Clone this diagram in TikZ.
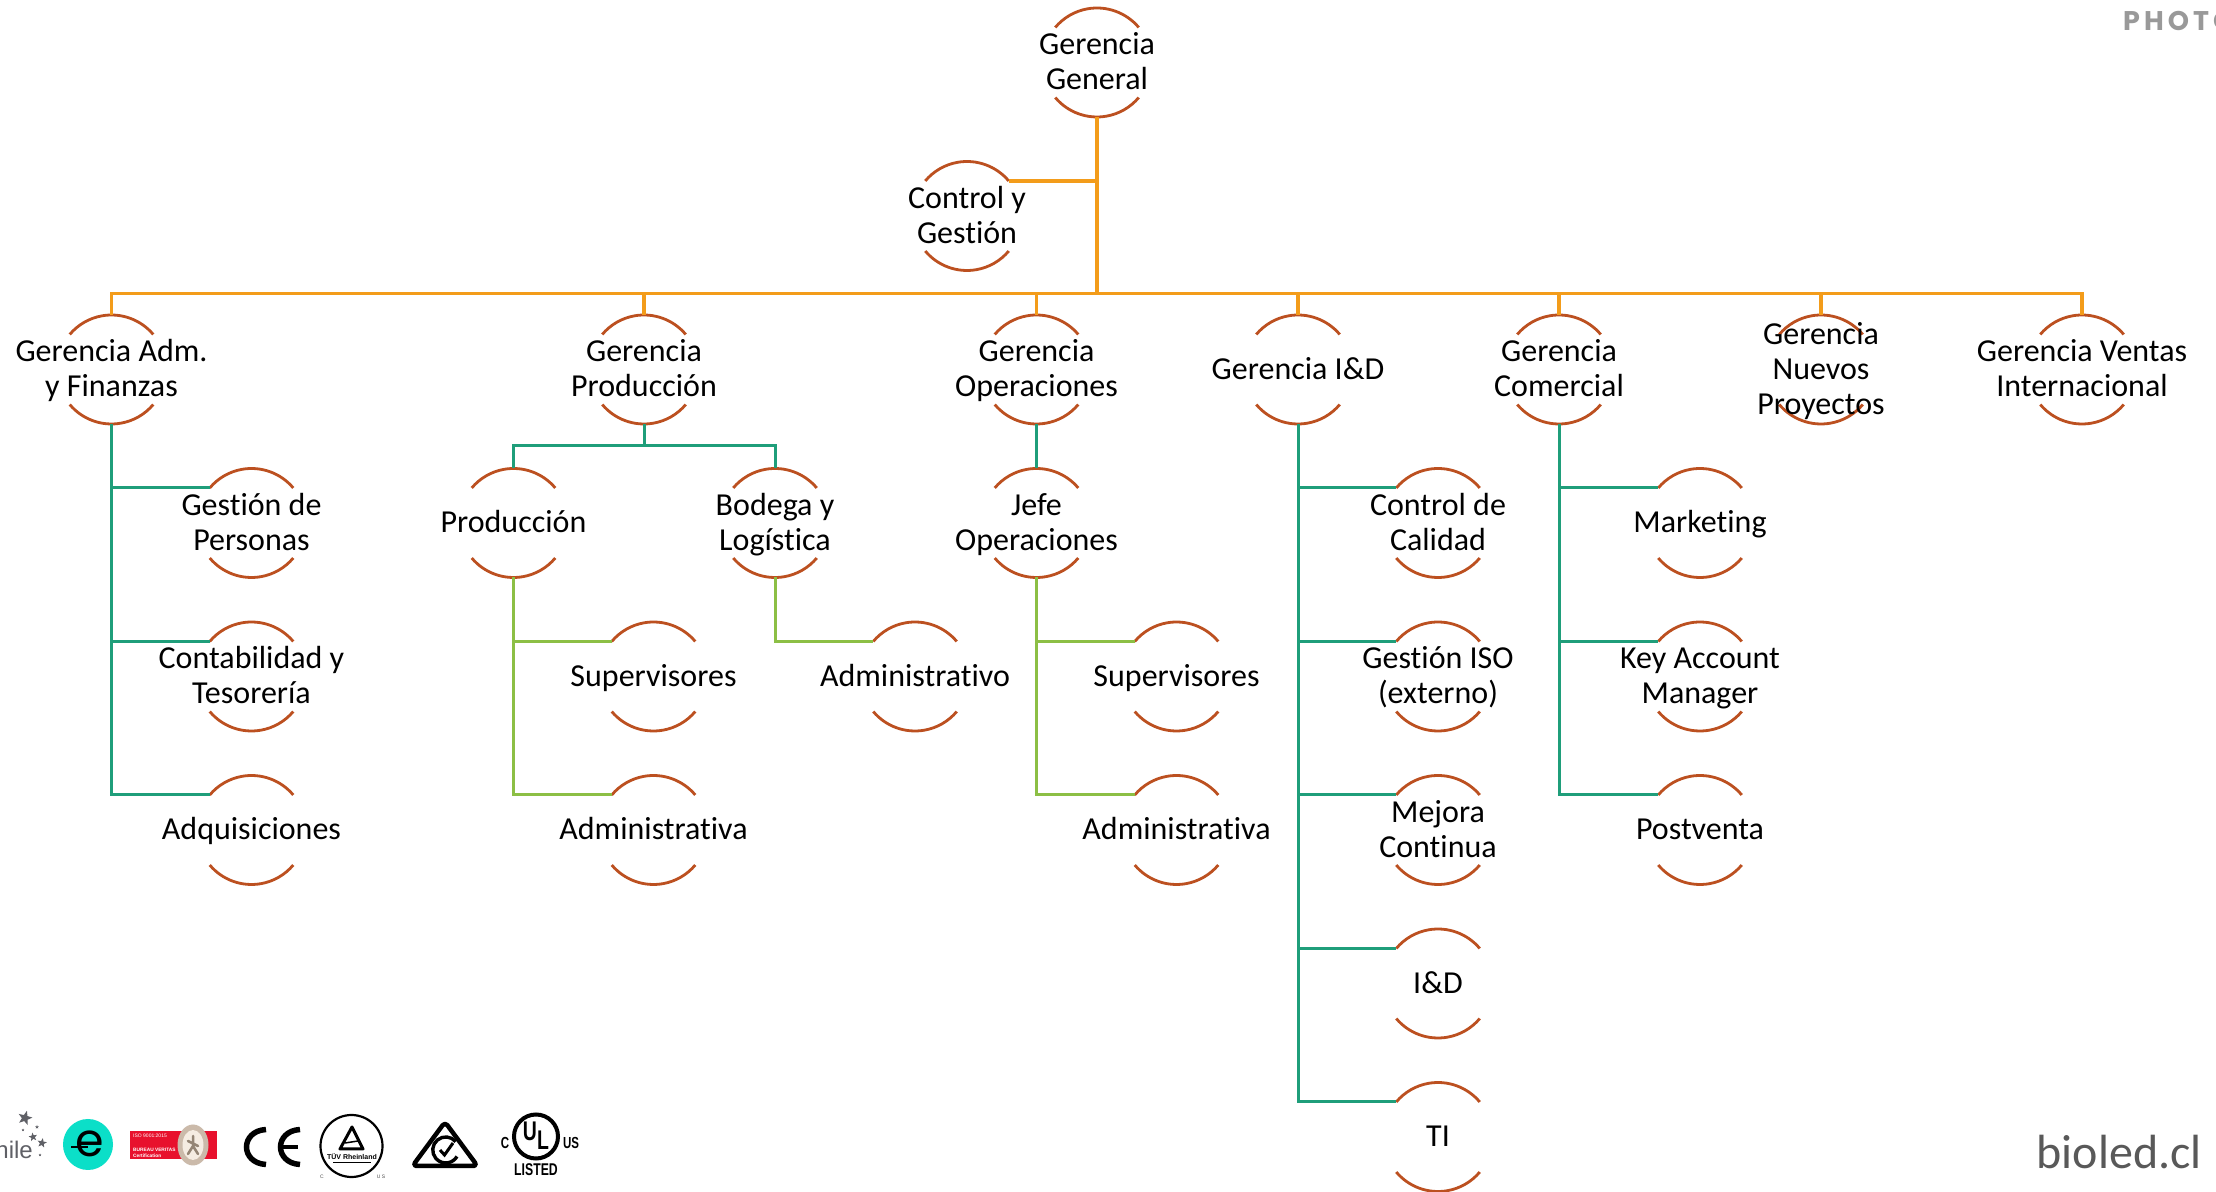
\documentclass[tikz,border=0pt]{standalone}
\usepackage{fontspec}
\usetikzlibrary{shapes.geometric,calc}
\setmainfont{Carlito}[Ligatures=NoCommon]
\newfontfamily\logosans{Liberation Sans}
\newfontfamily\ulfont[FakeStretch=0.72]{Liberation Sans}
\newfontfamily\photofont[LetterSpace=15]{Poppins}
\newfontfamily\efont{Poppins}
\definecolor{arcred}{HTML}{BC5020}
\definecolor{busor}{HTML}{F39C1A}
\definecolor{tealc}{HTML}{1F9E7A}
\definecolor{greenc}{HTML}{8CBF45}
\definecolor{logoteal}{HTML}{0BDFC8}
\definecolor{logored}{HTML}{E8112D}
\definecolor{logogray}{HTML}{5F6066}
\tikzset{
  orgcircle/.style={circle,minimum size=109pt,inner sep=0pt,outer sep=0pt},
  orgtext/.style={align=center,inner sep=0pt,text=black,font=\fontsize{32}{35}\selectfont},
  orgarc/.style={draw=arcred,line width=2.8pt},
  busline/.style={draw=busor,line width=3.2pt},
  trunkline/.style={draw=busor,line width=4.4pt},
  tealline/.style={draw=tealc,line width=3pt},
  greenline/.style={draw=greenc,line width=3pt},
  logostar/.style={star,star points=5,star point ratio=2.4,fill=logogray,inner sep=0pt,outer sep=0pt},
  tinywhite/.style={text=white,inner sep=0pt,font=\logosans\fontsize{5}{6}\selectfont},
}
\newcommand\orgnode[4]{%
  \node[orgcircle] (#1) at (#2,{1191-#3}) {};
  \draw[orgarc] (#1.40) arc[start angle=40,end angle=140,radius=54.5pt];
  \draw[orgarc] (#1.220) arc[start angle=220,end angle=320,radius=54.5pt];
  \node[orgtext] (#1-t) at (#1) {\rule{0pt}{29pt}#4\rule[-9pt]{0pt}{9pt}};
}
\newcommand\sidelink[3]{\draw[#1] (#2.south) |- (#3.140);}
\begin{document}
\begin{tikzpicture}[x=1pt,y=1pt]
\useasboundingbox (0,0) rectangle (2216,1191);
\clip (0,0) rectangle (2216,1191);
\fill[white] (0,0) rectangle (2216,1191);

% nodes
\orgnode{gg}{1097}{62.5}{Gerencia\\General}
\orgnode{ctrl}{967}{216}{Control y\\Gestión}
\orgnode{adm}{111.5}{369.5}{Gerencia Adm.\\y Finanzas}
\orgnode{prod}{644}{369.5}{Gerencia\\Producción}
\orgnode{oper}{1036.5}{369.5}{Gerencia\\Operaciones}
\orgnode{ide}{1298}{369.5}{Gerencia I\&D}
\orgnode{com}{1559}{369.5}{Gerencia\\Comercial}
\orgnode{nue}{1821}{369.5}{Gerencia\\Nuevos\\Proyectos}
\orgnode{ven}{2082}{369.5}{Gerencia Ventas\\Internacional}

\orgnode{pers}{251.5}{523}{Gestión de\\Personas}
\orgnode{cont}{251.5}{676.5}{Contabilidad y\\Tesorería}
\orgnode{adq}{251.5}{830}{Adquisiciones}

\orgnode{pro}{513.5}{523}{Producción}
\orgnode{bod}{775}{523}{Bodega y\\Logística}
\orgnode{sup}{653.5}{676.5}{Supervisores}
\orgnode{admva}{653.5}{830}{Administrativa}
\orgnode{admvo}{915}{676.5}{Administrativo}

\orgnode{jefe}{1036.5}{523}{Jefe\\Operaciones}
\orgnode{supb}{1176.5}{676.5}{Supervisores}
\orgnode{admvb}{1176.5}{830}{Administrativa}

\orgnode{cal}{1438}{523}{Control de\\Calidad}
\orgnode{iso}{1438}{676.5}{Gestión ISO\\(externo)}
\orgnode{mej}{1438}{830}{Mejora\\Continua}
\orgnode{id}{1438}{983.5}{I\&D}
\orgnode{ti}{1438}{1137}{TI}

\orgnode{mkt}{1700}{523}{Marketing}
\orgnode{kam}{1700}{676.5}{Key Account\\Manager}
\orgnode{post}{1700}{830}{Postventa}

% orange connectors
\coordinate (bus) at (1097,{1191-293.5});
\draw[trunkline] (gg.south) -- (bus);
\draw[busline] (ctrl.40) -- (ctrl.40 -| gg.south);
\foreach \c in {adm,prod,oper,ide,com,nue,ven}{
  \draw[busline] (bus) -| (\c.north);
}

% teal connectors
\foreach \c in {pers,cont,adq}{\sidelink{tealline}{adm}{\c}}
\coordinate (pbus) at (644,{1191-446});
\draw[tealline] (prod.south) -- (pbus);
\draw[tealline] (pbus) -| (pro.north);
\draw[tealline] (pbus) -| (bod.north);
\draw[tealline] (oper.south) -- (jefe.north);
\foreach \c in {cal,iso,mej,id,ti}{\sidelink{tealline}{ide}{\c}}
\foreach \c in {mkt,kam,post}{\sidelink{tealline}{com}{\c}}

% green connectors
\foreach \c in {sup,admva}{\sidelink{greenline}{pro}{\c}}
\sidelink{greenline}{bod}{admvo}
\foreach \c in {supb,admvb}{\sidelink{greenline}{jefe}{\c}}

% corner texts
\node[anchor=base west,inner sep=0pt,text=black!40!white,font=\photofont\bfseries\fontsize{27}{30}\selectfont] (photo) at (2123,{1191-31}) {PHOTO};
\node[anchor=base east,inner sep=0pt,text=black!65!white,font=\fontsize{48}{52}\selectfont] (web) at (2202,{1191-1168}) {bioled.cl};

% logos (y measured downward)
\begin{scope}[shift={(0,1191)},y=-1pt]
  % Chile
  \node[anchor=base east,inner sep=0pt,text=logogray,font=\logosans\fontsize{24}{26}\selectfont] (chile) at (33,1159) {Chile};
  \node[logostar,minimum size=15pt,rotate=-15] (s1) at (25,1118) {};
  \node[logostar,minimum size=9pt,rotate=10] (s2) at (33,1137) {};
  \node[logostar,minimum size=10pt,rotate=-10] (s3) at (42,1143) {};
  \node[logostar,minimum size=4pt] (s4) at (37,1127) {};
  \node[logostar,minimum size=3pt] (s5) at (23,1130) {};
  \node[logostar,minimum size=3pt] (s6) at (40,1155) {};
  % e
  \node[ellipse,fill=logoteal,minimum width=50pt,minimum height=51pt,inner sep=0pt] (elogo) at (88,1144.5) {};
  \node[inner sep=0pt,text=black,font=\efont\fontsize{46}{46}\selectfont] (etext) at (90,1144) {e};
  \draw[black,line width=2.6pt] (71,1147) -- (88,1147);
  % Bureau Veritas
  \node[fill=logored,minimum width=87pt,minimum height=28pt,inner sep=0pt,anchor=north west] (bv) at (130,1131) {};
  \node[tinywhite,anchor=west] (bv1) at (133,1135.5) {ISO 9001:2015};
  \node[tinywhite,anchor=west,font=\logosans\bfseries\fontsize{4.8}{6}\selectfont] (bv2) at (133,1150) {BUREAU VERITAS};
  \node[tinywhite,anchor=west,font=\logosans\bfseries\fontsize{4.8}{6}\selectfont] (bv3) at (133,1156) {Certification};
  \node[ellipse,fill=black!35!brown!40!white,minimum width=31pt,minimum height=41pt,inner sep=0pt] (bvo) at (193,1145) {};
  \node[ellipse,fill=white!85!brown,minimum width=21pt,minimum height=30pt,inner sep=0pt] (bvi) at (193,1145) {};
  \draw[black!60!brown!60!white,line width=2.5pt,line cap=round] (193,1136) -- (193,1146) (188,1141) -- (198,1146) (193,1146) -- (188,1154) (193,1146) -- (198,1154);
  % CE
  \draw[black,line width=5.5pt] (266,1129.5) .. controls (240,1131) and (240,1163) .. (266,1164.5);
  \draw[black,line width=5.5pt] (300,1129.5) .. controls (274,1131) and (274,1163) .. (300,1164.5);
  \draw[black,line width=4.5pt] (282,1147) -- (298,1147);
  % TUV
  \node[circle,draw=black,line width=2.2pt,minimum size=62pt,inner sep=0pt] (tuv) at (351.5,1146) {};
  \draw[black,line width=3pt,line join=round] (352,1127) -- (340,1149) -- (363,1149) -- cycle;
  \draw[black,line width=1.5pt] (345,1143) -- (358,1141);
  \node[inner sep=0pt,text=black,font=\logosans\bfseries\fontsize{7}{8}\selectfont] (tuvt) at (352,1157) {TÜV Rheinland};
  \draw[black,line width=.8pt] (333,1162) -- (371,1162);
  \node[inner sep=0pt,text=black!70,font=\logosans\fontsize{5}{6}\selectfont] (tuvc) at (322,1177) {C};
  \node[inner sep=0pt,text=black!70,font=\logosans\fontsize{5}{6}\selectfont] (tuvu) at (381,1177) {U S};
  % RCM
  \draw[black,line width=4.5pt,line join=round,rounded corners=4pt] (445,1122) -- (477.5,1166) -- (412.5,1166) -- cycle;
  \draw[black,line width=3.4pt] (455.7,1141.6) arc[start angle=40,end angle=330,radius=13pt];
  \draw[black,line width=3pt] (440,1150) -- (444.5,1155) -- (453,1143);
  % UL
  \node[circle,draw=black,line width=4pt,minimum size=44pt,inner sep=0pt] (ul) at (536,1136.5) {};
  \node[inner sep=0pt,text=black,font=\ulfont\bfseries\fontsize{27}{28}\selectfont] (ulu) at (530,1131) {U};
  \node[inner sep=0pt,text=black,font=\ulfont\bfseries\fontsize{27}{28}\selectfont] (ull) at (543,1140) {L};
  \node[inner sep=0pt,text=black,font=\ulfont\bfseries\fontsize{16}{17}\selectfont] (ulc) at (505,1143) {C};
  \node[inner sep=0pt,text=black,font=\ulfont\bfseries\fontsize{16}{17}\selectfont] (ulus) at (571,1143) {US};
  \node[inner sep=0pt,text=black,font=\ulfont\bfseries\fontsize{17}{18}\selectfont] (ullist) at (536,1170) {LISTED};
\end{scope}
\end{tikzpicture}
\end{document}
